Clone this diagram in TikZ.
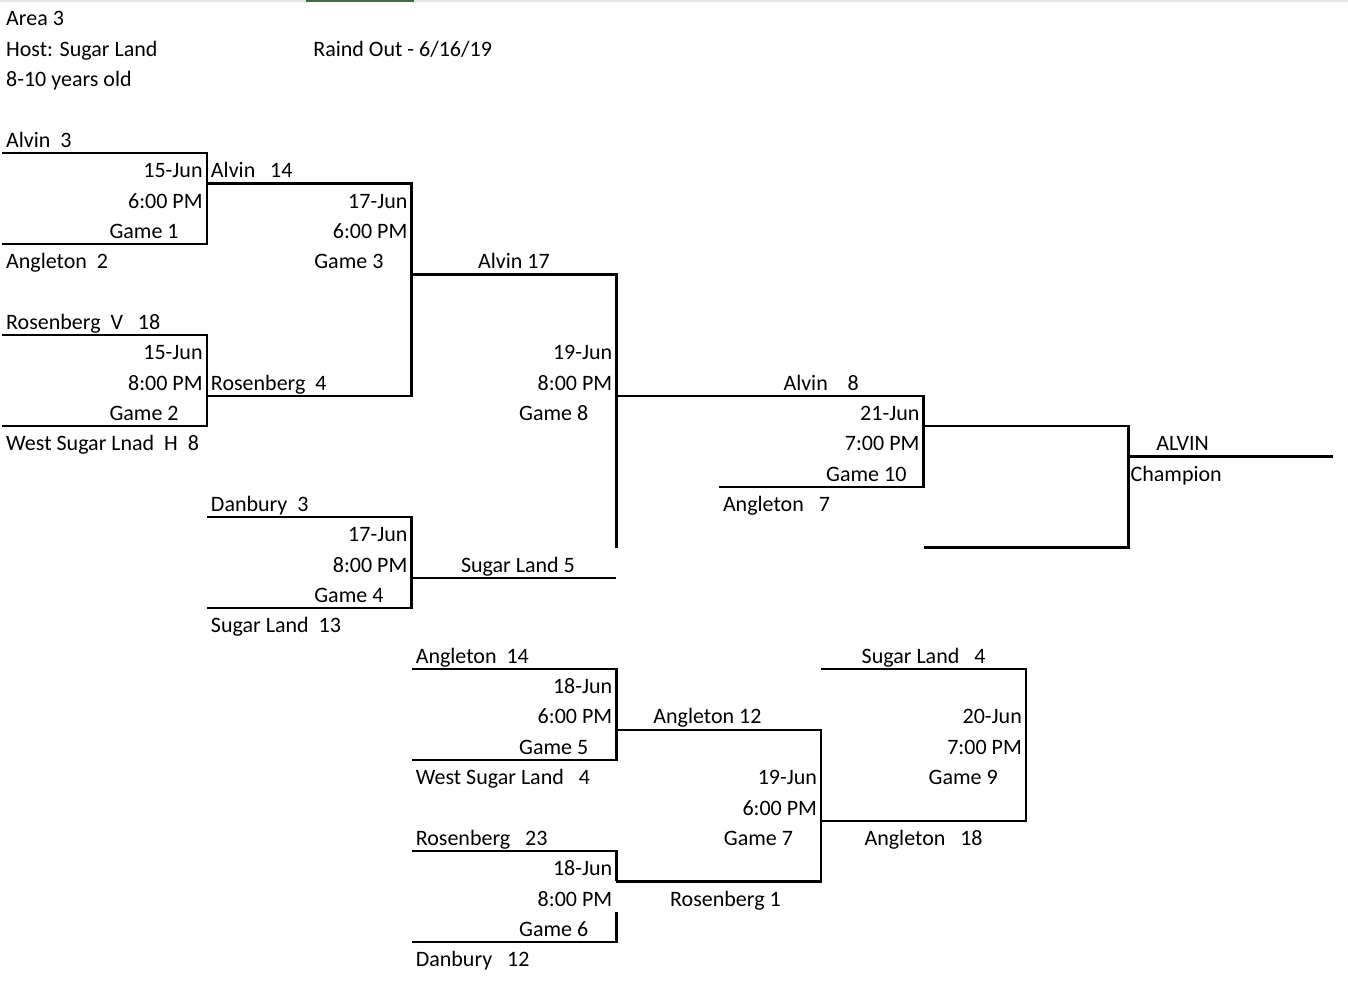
\documentclass[tikz,border=0pt]{standalone}
\usepackage{fontspec}
\setmainfont{Carlito}
\usetikzlibrary{positioning}
\definecolor{sheetgreen}{RGB}{59,110,72}
\definecolor{sheetgrey}{RGB}{230,230,230}

\tikzset{
    cell/.style={inner sep=0pt, text height=14pt, text depth=0pt, yshift=-2.5pt, font=\fontsize{22}{26}\selectfont},
    lcell/.style={cell, anchor=west, xshift=4pt},
    rcell/.style={cell, anchor=east, xshift=-4pt},
    ccell/.style={cell, anchor=center},
    gcell/.style={cell, anchor=east},
    border/.style={line width=2.3pt}
}

\begin{document}
\begin{tikzpicture}[x=102.4pt, y=-30.35pt]%
    % one x unit = one column, one y unit = one row
    \useasboundingbox (-0.0195,-0.0412) rectangle (13.1445,32.249);
    \fill [sheetgrey] (-0.0195,-0.0412) rectangle (13.1445,0.025);
    \fill [sheetgreen] (2.97,-0.0412) rectangle (4.02,0.025);

    % heading
    \node (area) [lcell] at (0,0.5) {Area 3};
    \node (host) [lcell] at (0,1.5) {Host: Sugar Land};
    \node (rain) [lcell] at (3,1.5) {Raind Out - 6/16/19};
    \node (ages) [lcell] at (0,2.5) {8-10 years old};

    % brackets: left col / right col / top row / bottom row
    \foreach \lc/\rc/\tr/\br in {0/2/5/8, 0/2/11/14, 2/4/6/13, 2/4/17/20, 4/6/22/25, 6/8/24/29, 8/10/22/27, 9/11/14/18}{
        \draw [border] (\lc,\tr) -| (\rc,\br) -- (\lc,\br);
    }
    \draw [border] (4,9) -| (6,18);       % game 8, open at the bottom
    \draw [border] (4,19) -- (6,19);
    \draw [border] (6,13) -| (9,16) -- (7,16);  % game 10
    \draw [border] (4,28) -| (6,29);      % game 6, broken edge
    \draw [border] (6,30) |- (4,31);
    \draw [border] (11,15) -- (13,15);

    % date, time and game number of each game
    \foreach \n/\col/\row/\gdate/\gtime in {1/2/5/15-Jun/6:00 PM, 2/2/11/15-Jun/8:00 PM, 3/4/6/17-Jun/6:00 PM, 4/4/17/17-Jun/8:00 PM, 5/6/22/18-Jun/6:00 PM, 6/6/28/18-Jun/8:00 PM, 7/8/25/19-Jun/6:00 PM, 8/6/11/19-Jun/8:00 PM, 9/10/23/20-Jun/7:00 PM, 10/9/13/21-Jun/7:00 PM}{
        \pgfmathsetmacro\rowA{\row+0.5}
        \pgfmathsetmacro\rowB{\row+1.5}
        \pgfmathsetmacro\rowC{\row+2.5}
        \pgfmathsetmacro\gshift{\n==10 ? 17 : 28}
        \node (g\n-date) [rcell] at (\col,\rowA) {\gdate};
        \node (g\n-time) [rcell] at (\col,\rowB) {\gtime};
        \node (g\n-game) [gcell, xshift=-\gshift pt] at (\col,\rowC) {Game \n};
    }

    % teams, left aligned in their cell
    \foreach \nm/\col/\row/\team in {alvinA/0/4.5/Alvin~~3, angletonA/0/8.5/Angleton~~2, rosenbergA/0/10.5/Rosenberg~~V~~~18, westA/0/14.5/West Sugar Lnad~~H~~8, alvinB/2/5.5/Alvin~~~14, rosenbergB/2/12.5/Rosenberg~~4, danburyA/2/16.5/Danbury~~3, sugarA/2/20.5/Sugar Land~~13, angletonB/4/21.5/Angleton~~14, westB/4/25.5/West Sugar Land~~~4, rosenbergC/4/27.5/Rosenberg~~~23, danburyB/4/31.5/Danbury~~~12, angletonC/7/16.5/Angleton~~~7}{
        \node (\nm) [lcell] at (\col,\row) {\team};
    }

    % winners
    \node (alvinC) [ccell] at (5,8.5) {Alvin 17};
    \node (sugarB) [ccell, xshift=4pt] at (5,18.5) {Sugar Land 5};
    \node (alvinD) [ccell] at (8,12.5) {Alvin~~~~8};
    \node (sugarC) [ccell] at (9,21.5) {Sugar Land~~~4};
    \node (angletonD) [ccell] at (6.889,23.5) {Angleton 12};
    \node (angletonE) [ccell] at (9,27.5) {Angleton~~~18};
    \node (rosenbergD) [ccell] at (7.065,29.5) {Rosenberg 1};
    \node (champ) [ccell, xshift=3pt] at (11.5,14.5) {ALVIN};
    \node (champLabel) [lcell, xshift=-2pt] at (11,15.5) {Champion};
\end{tikzpicture}
\end{document}
